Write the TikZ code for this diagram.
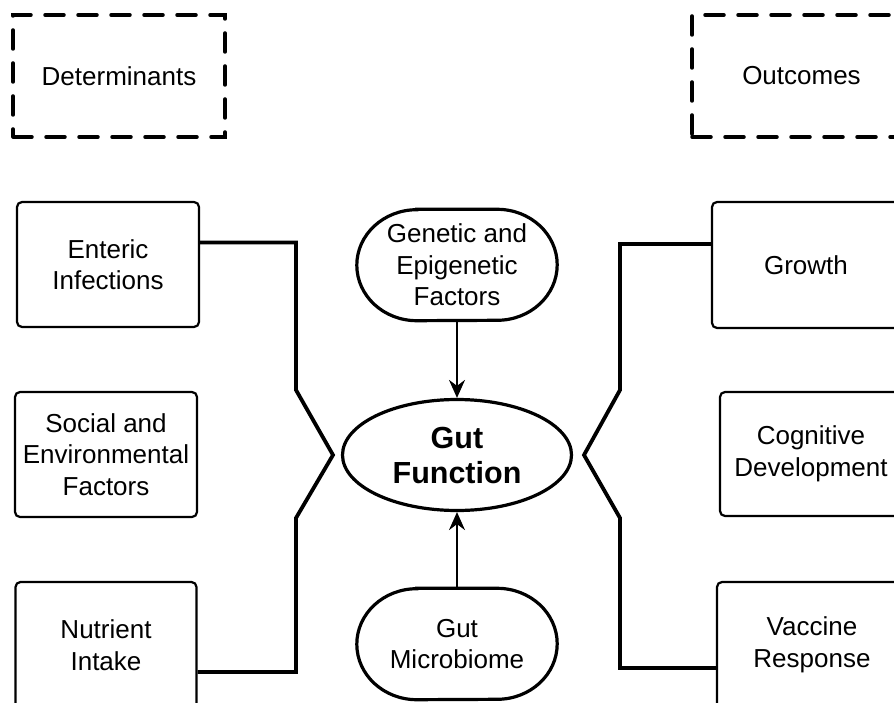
\documentclass[tikz,border=0pt]{standalone}
\usepackage{fontspec}
\setmainfont{Liberation Sans}
\usetikzlibrary{shapes.geometric,arrows.meta}
\begin{document}
\begin{tikzpicture}[x=1pt,y=-1pt,
  txt/.style={font=\fontsize{26}{31.5}\selectfont, align=center},
  box/.style={txt, draw, line width=2.2pt, rounded corners=5pt, inner sep=0pt},
  dbox/.style={txt, draw, line width=3.5pt, dash pattern=on 19pt off 14pt, line cap=round, inner sep=0pt},
  pill/.style={txt, minimum width=200pt, minimum height=111pt, inner sep=0pt},
  pillline/.style={line width=3.2pt},
  conn/.style={line width=3.8pt, line join=miter},
  arr/.style={line width=2pt, -{Stealth[length=18pt,width=16pt,inset=6pt]}}
]
\clip (0,0) rectangle (894,703);
% header boxes
\node[dbox, minimum width=212pt, minimum height=122pt] (det) at (119,76) {Determinants};
\node[dbox, minimum width=219pt, minimum height=122pt] (out) at (801.5,76) {Outcomes};
% left boxes
\node[box, minimum width=182pt, minimum height=125pt] (ent) at (108,264.5) {Enteric\\Infections};
\node[box, minimum width=182pt, minimum height=125pt] (soc) at (106,454.5) {Social and\\Environmental\\Factors};
\node[box, minimum width=181pt, minimum height=126pt] (nut) at (106,645) {Nutrient\\Intake};
% right boxes
\node[box, minimum width=188pt, minimum height=126pt] (gro) at (806,265) {Growth};
\node[box, minimum width=182pt, minimum height=124pt] (cog) at (811,454) {Cognitive\\Development};
\node[box, minimum width=190pt, minimum height=126pt] (vac) at (812,645) {Vaccine\\Response};
% centre pills
\node[pill] (gen) at (457,265) {Genetic and\\Epigenetic\\Factors};
\node[pill] (mic) at (457,644) {Gut\\Microbiome};
\foreach \p in {gen,mic}{
  \draw[pillline] ([xshift=60pt]\p.north west) -- ([xshift=-60pt]\p.north east)
    arc[start angle=90, end angle=-90, x radius=60pt, y radius=55.5pt]
    -- ([xshift=60pt]\p.south west)
    arc[start angle=270, end angle=90, x radius=60pt, y radius=55.5pt] -- cycle;
}
\node[draw, ellipse, line width=3.2pt, minimum width=229pt, minimum height=111pt, inner sep=0pt,
      font=\fontsize{30.5}{35}\selectfont\bfseries, align=center] (gut) at (457,455) {Gut\\Function};
% arrows
\draw[arr] (gen.south) -- (gut.north);
\draw[arr] (mic.north) -- (gut.south);
% brackets
\draw[conn] ([yshift=22pt]ent.east) -| (296,390) -- (333,455) -- (296,518) |- ([yshift=-27pt]nut.east);
\draw[conn] ([yshift=21pt]gro.west) -| (620,390) -- (584,455) -- (620,518) |- ([yshift=-23pt]vac.west);
\end{tikzpicture}
\end{document}
